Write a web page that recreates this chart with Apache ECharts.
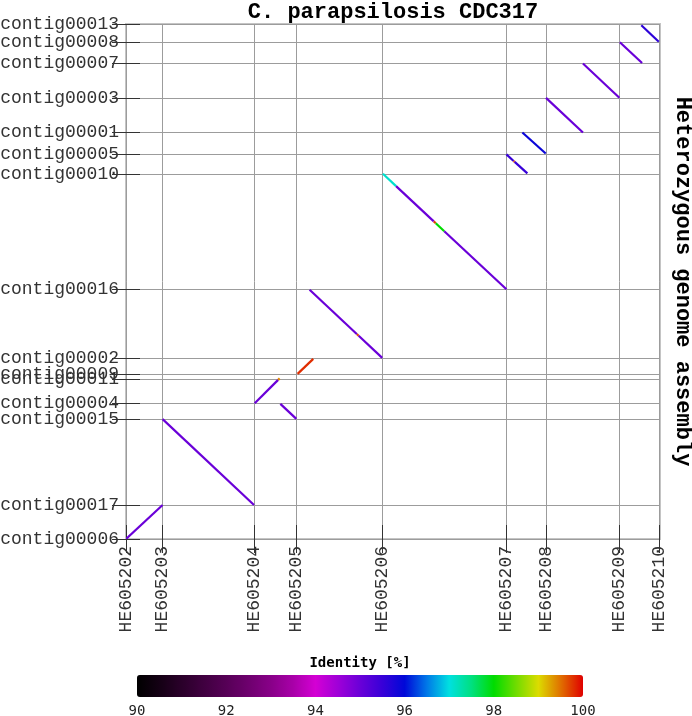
<!DOCTYPE html>
<html>
<head>
<meta charset="utf-8">
<script src="https://cdn.jsdelivr.net/npm/echarts@6/dist/echarts.min.js"></script>
<style>
  html, body { margin: 0; padding: 0; background: #fff; }
  #chart { width: 692px; height: 716px; }
</style>
</head>
<body>
<div id="chart"></div>
<script>
// reference sequences (x axis), start offsets in kb
const refNames = ['HE605202', 'HE605203', 'HE605204', 'HE605205', 'HE605206',
  'HE605207', 'HE605208', 'HE605209', 'HE605210']
const refStarts = [0, 895, 3131, 4172, 6278, 9304, 10272, 12071, 13030]
const refEnd = 13060

// query contigs (y axis), start offsets in kb
const qryNames = ['contig00006', 'contig00017', 'contig00015', 'contig00004', 'contig00011',
  'contig00009', 'contig00002', 'contig00016', 'contig00010', 'contig00005',
  'contig00001', 'contig00003', 'contig00007', 'contig00008', 'contig00013']
const qryStarts = [0, 830, 2928, 3314, 3904, 4026, 4416, 6100, 8921, 9394,
  9931, 10775, 11614, 12141, 12566]
const qryEnd = 12580

// alignments: [refFrom, qryFrom, refTo, qryTo, identity %]
const alignments = [
  [0, 0, 895, 830, 95.0],
  [895, 2928, 3131, 830, 95.0],
  [3148, 3318, 3721, 3887, 95.0],
  [3721, 3887, 3758, 3924, 99.4],
  [3775, 3301, 4165, 2935, 95.0],
  [4197, 4033, 4580, 4399, 99.8],
  [4490, 6088, 5650, 5001, 95.0],
  [5650, 5001, 5690, 4964, 99.7],
  [5690, 4964, 6266, 4424, 95.0],
  [6283, 8921, 6605, 8620, 97.1],
  [6605, 8620, 7527, 7759, 95.0],
  [7527, 7759, 7576, 7714, 99.7],
  [7576, 7714, 7784, 7519, 98.0],
  [7784, 7519, 9304, 6100, 95.0],
  [9304, 9394, 9480, 9234, 95.5],
  [9480, 9234, 9505, 9212, 99.7],
  [9505, 9212, 9816, 8930, 95.5],
  [9694, 9931, 10265, 9418, 95.9],
  [10272, 10775, 11175, 9931, 95.0],
  [11175, 11614, 12066, 10780, 95.0],
  [12078, 12134, 12622, 11627, 95.0],
  [12603, 12549, 13030, 12146, 95.6]
]

// identity palette, 90 -> 100 in 0.5 steps
const identityColors = ['#000000', '#140014', '#2a002a', '#400040', '#560056', '#6e006e',
  '#880088', '#a800a8', '#d400d4', '#a000d8', '#6a00d8', '#3800d8', '#0008d8', '#0078e8',
  '#00e0e0', '#00e080', '#00dc00', '#70dc00', '#dcdc00', '#e07000', '#e00000']

const mono = 'Liberation Mono'

const chart = echarts.init(document.getElementById('chart'))

const tickStyle = { show: true, inside: true, length: 14, lineStyle: { color: '#333', width: 1 } }

// the top contig label sits on its own axis so the max-label overlap check keeps both
const lastQry = qryStarts.length - 1

const yLabel = {
  margin: 7,
  fontFamily: mono, fontSize: 18, color: '#333',
  formatter: v => qryNames[qryStarts.indexOf(v)]
}

const option = {
  animation: false,
  title: [
    {
      text: 'C. parapsilosis CDC317',
      left: 393,
      textAlign: 'center',
      top: 1,
      padding: 0,
      textStyle: { fontFamily: mono, fontSize: 22, fontWeight: 'bold', color: '#000' }
    },
    {
      text: 'Identity [%]',
      left: 360,
      textAlign: 'center',
      top: 656,
      padding: 0,
      textStyle: { fontFamily: 'DejaVu Sans Mono', fontSize: 14, fontWeight: 'bold', color: '#000' }
    }
  ],
  grid: [
    {
      left: 126, right: 32, top: 24, bottom: 177,
      containLabel: false, outerBoundsMode: 'none',
      show: true, borderColor: '#c4c4c4', borderWidth: 2, backgroundColor: 'transparent'
    },
    { left: 137, width: 446, top: 697, height: 1, show: false, containLabel: false, outerBoundsMode: 'none' }
  ],
  xAxis: [
    {
      type: 'value', gridIndex: 0, min: 0, max: refEnd,
      axisLine: { show: false },
      axisTick: Object.assign({ customValues: refStarts }, tickStyle),
      splitLine: { show: true, lineStyle: { color: '#9c9c9c', width: 1 } },
      axisLabel: {
        customValues: refStarts,
        rotate: 90,
        margin: 7,
        showMinLabel: true, showMaxLabel: true,
        fontFamily: mono, fontSize: 18, color: '#333',
        formatter: v => refNames[refStarts.indexOf(v)]
      }
    },
    {
      type: 'value', gridIndex: 0, position: 'top', min: 0, max: refEnd,
      axisLine: { show: false },
      axisTick: Object.assign({ customValues: refStarts }, tickStyle),
      splitLine: { show: false },
      axisLabel: { show: false }
    },
    {
      type: 'value', gridIndex: 1, min: 90, max: 100, interval: 2,
      axisLine: { show: false }, axisTick: { show: false }, splitLine: { show: false },
      axisLabel: { margin: 6, fontFamily: 'DejaVu Sans Mono', fontSize: 14, color: '#222' }
    }
  ],
  yAxis: [
    {
      type: 'value', gridIndex: 0, position: 'left', min: 0, max: qryEnd,
      axisLine: { show: false },
      axisTick: Object.assign({ customValues: qryStarts }, tickStyle),
      splitLine: { show: true, lineStyle: { color: '#9c9c9c', width: 1 } },
      axisLabel: Object.assign({ customValues: qryStarts.slice(0, lastQry) }, yLabel)
    },
    {
      type: 'value', gridIndex: 0, position: 'right', min: 0, max: qryEnd,
      name: 'Heterozygous genome assembly',
      nameLocation: 'middle',
      nameRotate: -90,
      nameGap: 12,
      nameTextStyle: { fontFamily: mono, fontSize: 22, fontWeight: 'bold', color: '#000' },
      axisLine: { show: false },
      axisTick: Object.assign({ customValues: qryStarts }, tickStyle),
      splitLine: { show: false },
      axisLabel: { show: false }
    },
    { type: 'value', gridIndex: 1, show: false },
    {
      type: 'value', gridIndex: 0, position: 'left', offset: 0, min: 0, max: qryEnd,
      axisLine: { show: false }, axisTick: { show: false }, splitLine: { show: false },
      axisLabel: Object.assign({ customValues: [qryStarts[lastQry]] }, yLabel)
    }
  ],
  visualMap: {
    type: 'continuous',
    min: 90,
    max: 100,
    dimension: 4,
    seriesIndex: 0,
    orient: 'horizontal',
    left: 137,
    top: 675,
    padding: 0,
    itemWidth: 22,
    itemHeight: 446,
    calculable: false,
    hoverLink: false,
    text: null,
    showLabel: false,
    inRange: { color: identityColors }
  },
  series: [{
    type: 'custom',
    xAxisIndex: 0,
    yAxisIndex: 0,
    clip: true,
    encode: { x: [0, 2], y: [1, 3] },
    data: alignments,
    renderItem: function (params, api) {
      const p1 = api.coord([api.value(0), api.value(1)])
      const p2 = api.coord([api.value(2), api.value(3)])
      return {
        type: 'line',
        shape: { x1: p1[0], y1: p1[1], x2: p2[0], y2: p2[1] },
        style: { stroke: api.visual('color'), lineWidth: 2.2, lineCap: 'butt' }
      }
    }
  }]
}

chart.setOption(option)
</script>
</body>
</html>
